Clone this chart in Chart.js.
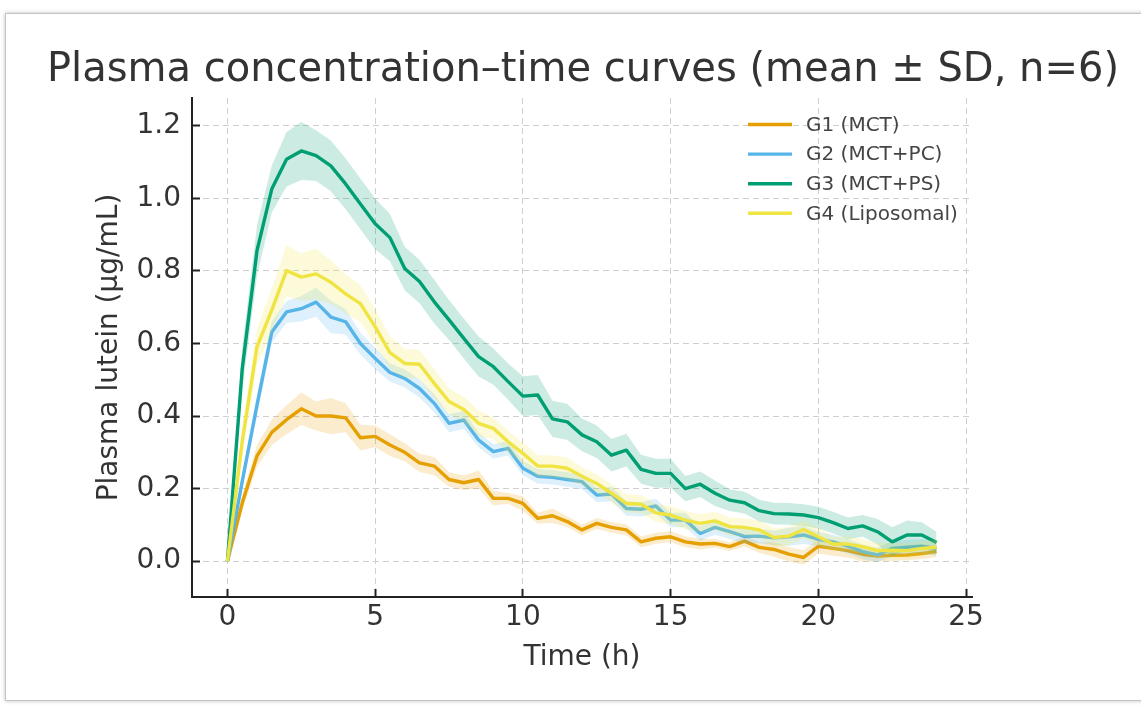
<!DOCTYPE html>
<html>
<head>
<meta charset="utf-8">
<script src="https://cdn.jsdelivr.net/npm/chart.js@4.4.1/dist/chart.umd.min.js"></script>
<style>
    html, body { margin: 0; padding: 0; background: #fff; }
    #wrap { position: relative; width: 1141px; height: 706px; overflow: hidden; }
    #frame {
        position: absolute; left: 5px; top: 13px; width: 1160px; height: 686px;
        border: 1px solid #c4c4c4; box-shadow: 0 0 4px rgba(0,0,0,0.25);
        pointer-events: none;
    }
    canvas { position: absolute; left: 0; top: 0; }
</style>
</head>
<body>
<div id="wrap">
    <canvas id="pkChart" width="1141" height="706"></canvas>
    <div id="frame"></div>
</div>
<script>
/* 1. 데이터 */
const timeH = [0, 0.5, 1, 1.5, 2, 2.5, 3, 3.5, 4, 4.5, 5, 5.5, 6, 6.5, 7, 7.5, 8, 8.5, 9, 9.5,
    10, 10.5, 11, 11.5, 12, 12.5, 13, 13.5, 14, 14.5, 15, 15.5, 16, 16.5, 17, 17.5, 18, 18.5, 19, 19.5,
    20, 20.5, 21, 21.5, 22, 22.5, 23, 23.5, 24];

const g1Mean = [0, 0.16, 0.29, 0.355, 0.39, 0.42, 0.40, 0.40, 0.395, 0.34, 0.344, 0.32, 0.30, 0.271, 0.262, 0.225, 0.216, 0.225, 0.173, 0.173,
    0.159, 0.118, 0.125, 0.109, 0.086, 0.104, 0.093, 0.086, 0.053, 0.063, 0.067, 0.053, 0.047, 0.049, 0.040, 0.055, 0.038, 0.032, 0.019, 0.010,
    0.041, 0.035, 0.029, 0.019, 0.014, 0.016, 0.017, 0.021, 0.026];
const g1Sd = [0, 0.02, 0.03, 0.035, 0.04, 0.045, 0.04, 0.05, 0.04, 0.035, 0.03, 0.03, 0.025, 0.025, 0.025, 0.02, 0.02, 0.025, 0.02, 0.015,
    0.02, 0.015, 0.02, 0.015, 0.015, 0.015, 0.015, 0.015, 0.015, 0.015, 0.015, 0.015, 0.015, 0.012, 0.012, 0.015, 0.015, 0.02, 0.02, 0.02,
    0.02, 0.02, 0.02, 0.02, 0.015, 0.015, 0.015, 0.015, 0.015];

const g2Mean = [0, 0.22, 0.43, 0.632, 0.687, 0.696, 0.714, 0.673, 0.660, 0.600, 0.559, 0.52, 0.504, 0.476, 0.435, 0.380, 0.389, 0.334, 0.302, 0.311,
    0.256, 0.234, 0.231, 0.225, 0.219, 0.182, 0.185, 0.145, 0.143, 0.152, 0.113, 0.113, 0.076, 0.093, 0.081, 0.068, 0.069, 0.064, 0.067, 0.072,
    0.060, 0.053, 0.041, 0.026, 0.017, 0.035, 0.038, 0.041, 0.035];
const g2Sd = [0, 0.02, 0.03, 0.03, 0.03, 0.035, 0.04, 0.045, 0.035, 0.03, 0.03, 0.025, 0.025, 0.025, 0.025, 0.025, 0.025, 0.02, 0.02, 0.02,
    0.02, 0.02, 0.02, 0.02, 0.02, 0.02, 0.02, 0.02, 0.02, 0.02, 0.02, 0.02, 0.02, 0.02, 0.02, 0.02, 0.02, 0.02, 0.025, 0.025,
    0.02, 0.02, 0.02, 0.02, 0.02, 0.02, 0.02, 0.02, 0.02];

const g3Mean = [0, 0.53, 0.856, 1.026, 1.108, 1.131, 1.118, 1.090, 1.040, 0.985, 0.930, 0.892, 0.807, 0.771, 0.715, 0.665, 0.614, 0.564, 0.536, 0.495,
    0.455, 0.458, 0.392, 0.384, 0.348, 0.329, 0.292, 0.306, 0.253, 0.242, 0.242, 0.200, 0.212, 0.187, 0.168, 0.161, 0.139, 0.131, 0.130, 0.127,
    0.120, 0.106, 0.090, 0.097, 0.081, 0.053, 0.072, 0.072, 0.051];
const g3Sd = [0, 0.06, 0.07, 0.065, 0.075, 0.08, 0.07, 0.07, 0.07, 0.07, 0.07, 0.065, 0.06, 0.06, 0.06, 0.055, 0.055, 0.055, 0.05, 0.05,
    0.055, 0.055, 0.05, 0.05, 0.045, 0.045, 0.045, 0.045, 0.04, 0.04, 0.04, 0.035, 0.035, 0.035, 0.03, 0.03, 0.03, 0.03, 0.03, 0.03,
    0.03, 0.03, 0.03, 0.03, 0.035, 0.04, 0.04, 0.035, 0.03];

const g4Mean = [0, 0.33, 0.591, 0.692, 0.801, 0.783, 0.792, 0.769, 0.737, 0.710, 0.646, 0.575, 0.545, 0.543, 0.490, 0.440, 0.418, 0.380, 0.366, 0.329,
    0.297, 0.262, 0.262, 0.256, 0.234, 0.214, 0.187, 0.159, 0.157, 0.133, 0.127, 0.113, 0.104, 0.111, 0.095, 0.093, 0.086, 0.065, 0.069, 0.087,
    0.067, 0.047, 0.047, 0.040, 0.029, 0.030, 0.029, 0.035, 0.038];
const g4Sd = [0, 0.04, 0.05, 0.06, 0.07, 0.065, 0.07, 0.06, 0.055, 0.05, 0.05, 0.045, 0.04, 0.04, 0.04, 0.035, 0.035, 0.035, 0.03, 0.03,
    0.03, 0.03, 0.03, 0.03, 0.025, 0.025, 0.025, 0.025, 0.025, 0.025, 0.025, 0.025, 0.025, 0.025, 0.025, 0.025, 0.025, 0.025, 0.025, 0.025,
    0.025, 0.02, 0.02, 0.02, 0.02, 0.02, 0.02, 0.02, 0.02];

const groupLabels = ['G1 (MCT)', 'G2 (MCT+PC)', 'G3 (MCT+PS)', 'G4 (Liposomal)'];
const groupColors = ['#E69F00', '#56B4E9', '#009E73', '#F0E442'];
const xTicks = [0, 5, 10, 15, 20, 25];
const yTicks = [0, 0.2, 0.4, 0.6, 0.8, 1.0, 1.2];

const FONT = '"DejaVu Sans", "Liberation Sans", sans-serif';

function hexToRgba(hex, a) {
    const n = parseInt(hex.slice(1), 16);
    return `rgba(${(n >> 16) & 255}, ${(n >> 8) & 255}, ${n & 255}, ${a})`;
}

/* 2. 데이터셋 구성: 그룹마다 SD 밴드(위/아래) + 평균선 */
const means = [g1Mean, g2Mean, g3Mean, g4Mean];
const sds = [g1Sd, g2Sd, g3Sd, g4Sd];
const datasets = [];

groupLabels.forEach((label, gi) => {
    const color = groupColors[gi];
    const base = (groupLabels.length - gi) * 3; // G1이 제일 아래에 그려지도록
    datasets.push({
        label: label + ' upper',
        data: timeH.map((t, i) => ({ x: t, y: means[gi][i] + sds[gi][i] })),
        borderColor: 'transparent',
        borderWidth: 0,
        pointRadius: 0,
        fill: false,
        order: base
    });
    datasets.push({
        label: label + ' lower',
        data: timeH.map((t, i) => ({ x: t, y: means[gi][i] - sds[gi][i] })),
        borderColor: 'transparent',
        borderWidth: 0,
        pointRadius: 0,
        backgroundColor: hexToRgba(color, 0.2),
        fill: '-1',
        order: base
    });
    datasets.push({
        label: label,
        data: timeH.map((t, i) => ({ x: t, y: means[gi][i] })),
        borderColor: color,
        borderWidth: 3.4,
        borderJoinStyle: 'round',
        pointRadius: 0,
        fill: false,
        order: base - 1
    });
});

/* 3. 범례는 플롯 안쪽 오른쪽 위에 직접 그림 */
const insideLegend = {
    id: 'insideLegend',
    afterDraw(chart) {
        const { ctx, chartArea } = chart;
        const x0 = chartArea.right - 224;
        const y0 = chartArea.top + 26.5;
        ctx.save();
        ctx.font = `20px ${FONT}`;
        ctx.textBaseline = 'middle';
        ctx.textAlign = 'left';
        groupLabels.forEach((label, i) => {
            const y = y0 + i * 29.6;
            ctx.strokeStyle = groupColors[i];
            ctx.lineWidth = 3.4;
            ctx.beginPath();
            ctx.moveTo(x0, y);
            ctx.lineTo(x0 + 44, y);
            ctx.stroke();
            ctx.fillStyle = '#444';
            ctx.fillText(label, x0 + 58, y + 1);
        });
        ctx.restore();
    }
};

const ctx = document.getElementById('pkChart').getContext('2d');

new Chart(ctx, {
    type: 'line',
    data: { datasets: datasets },
    plugins: [insideLegend],
    options: {
        responsive: false,
        animation: false,
        devicePixelRatio: 1,
        // 제목이 캔버스 폭 전체를 쓰도록 하고, 오른쪽 여백은 빈 축으로 확보
        layout: { padding: { left: 25, right: 0, top: 0, bottom: 0 } },
        plugins: {
            legend: { display: false },
            tooltip: { enabled: false },
            title: {
                display: true,
                text: 'Plasma concentration–time curves (mean ± SD, n=6)',
                color: '#333',
                font: { family: FONT, size: 40, weight: 'normal' },
                padding: { top: 47, bottom: 3 }
            }
        },
        scales: {
            x: {
                type: 'linear',
                min: -1.2,
                max: 25.2,
                afterBuildTicks: s => { s.ticks = xTicks.map(v => ({ value: v })); },
                afterFit: s => { s.height = 109; },
                ticks: {
                    color: '#333',
                    font: { family: FONT, size: 28 },
                    padding: 12,
                    maxRotation: 0,
                    callback: v => String(v)
                },
                grid: {
                    color: '#cfcfcf',
                    lineWidth: 1,
                    tickLength: -8,
                    tickColor: '#222',
                    tickWidth: 2
                },
                border: { color: '#222', width: 2, dash: [6, 4] },
                title: {
                    display: true,
                    text: 'Time (h)',
                    color: '#333',
                    font: { family: FONT, size: 28 },
                    padding: { top: 0, bottom: 31 }
                }
            },
            y: {
                min: -0.099,
                max: 1.277,
                afterBuildTicks: s => { s.ticks = yTicks.map(v => ({ value: v })); },
                afterFit: s => { s.width = 167; },
                ticks: {
                    color: '#333',
                    font: { family: FONT, size: 28 },
                    padding: 19,
                    callback: v => Number(v).toFixed(1)
                },
                grid: {
                    color: '#cfcfcf',
                    lineWidth: 1,
                    tickLength: -8,
                    tickColor: '#222',
                    tickWidth: 2
                },
                border: { color: '#222', width: 2, dash: [6, 4] },
                title: {
                    display: true,
                    text: 'Plasma lutein (μg/mL)',
                    color: '#333',
                    font: { family: FONT, size: 28 },
                    padding: { top: 68, bottom: 0 }
                }
            },
            yPad: {
                position: 'right',
                min: 0,
                max: 1,
                afterFit: s => { s.width = 169; },
                ticks: { display: false },
                grid: { display: false, drawOnChartArea: false },
                border: { display: false }
            }
        }
    }
});
</script>
</body>
</html>
